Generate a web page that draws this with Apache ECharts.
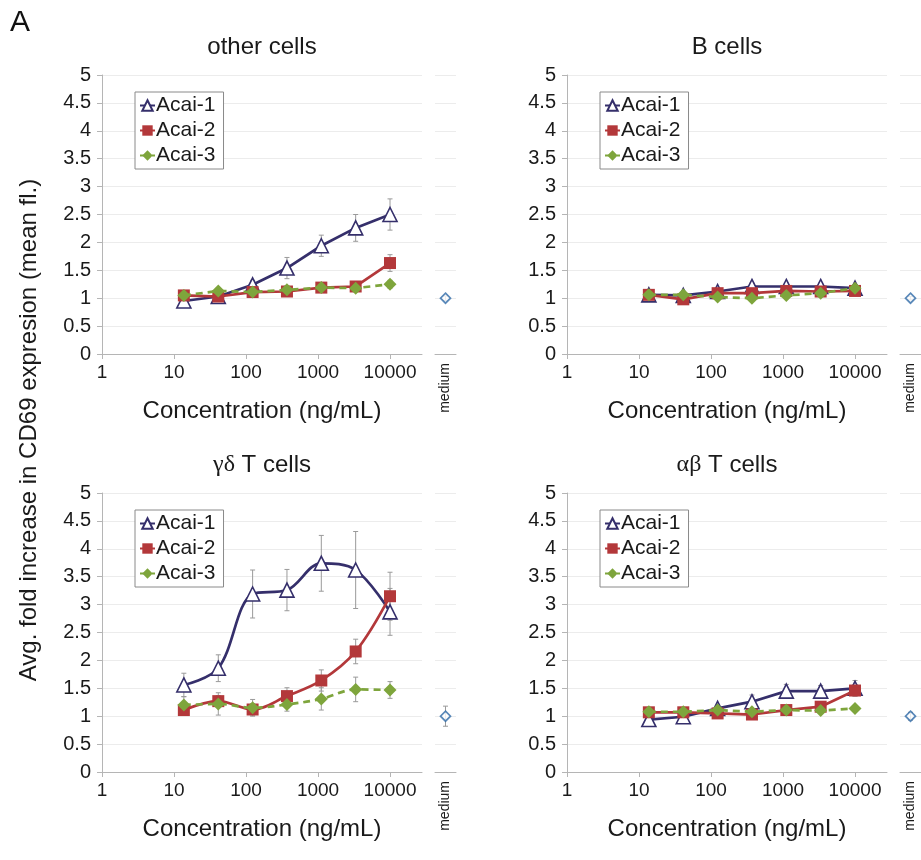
<!DOCTYPE html>
<html><head><meta charset="utf-8">
<script src="https://cdn.jsdelivr.net/npm/echarts@6/dist/echarts.min.js"></script>
<style>html,body{margin:0;padding:0;background:#fff}#c{width:921px;height:860px}</style>
</head><body><div id="c"></div>
<script>
// ---- data ----
const conc = [13.7, 41.2, 123.5, 370.4, 1111, 3333, 10000];
const seriesNames = ['Acai-1', 'Acai-2', 'Acai-3'];
const xTickValues = [1, 10, 100, 1000, 10000];
const panelTitles = ['other cells', 'B cells', '{g|γδ} T cells', '{g|αβ} T cells'];

const otherA1 = [0.95, 1.03, 1.24, 1.54, 1.94, 2.26, 2.50];
const otherA1Err = [0.05, 0.04, 0.08, 0.19, 0.19, 0.24, 0.28];
const otherA2 = [1.05, 1.03, 1.11, 1.12, 1.19, 1.21, 1.63];
const otherA2Err = [0.04, 0.04, 0.04, 0.05, 0.06, 0.05, 0.15];
const otherA3 = [1.05, 1.13, 1.11, 1.15, 1.19, 1.18, 1.25];
const otherA3Err = [0.04, 0.05, 0.05, 0.07, 0.06, 0.06, 0.07];
const otherMedium = 1.0, otherMediumErr = 0.04;

const bA1 = [1.06, 1.05, 1.12, 1.21, 1.21, 1.21, 1.18];
const bA1Err = [0.03, 0.03, 0.05, 0.06, 0.06, 0.06, 0.05];
const bA2 = [1.06, 0.98, 1.09, 1.09, 1.13, 1.12, 1.13];
const bA2Err = [0.03, 0.03, 0.04, 0.04, 0.04, 0.04, 0.04];
const bA3 = [1.06, 1.06, 1.02, 1.00, 1.05, 1.09, 1.18];
const bA3Err = [0.03, 0.03, 0.03, 0.03, 0.03, 0.03, 0.04];
const bMedium = 1.0, bMediumErr = 0.03;

const gdA1 = [1.56, 1.86, 3.19, 3.26, 3.74, 3.62, 2.87];
const gdA1Err = [0.21, 0.24, 0.43, 0.37, 0.50, 0.69, 0.42];
const gdA2 = [1.11, 1.27, 1.12, 1.36, 1.64, 2.16, 3.15];
const gdA2Err = [0.06, 0.10, 0.10, 0.15, 0.19, 0.22, 0.43];
const gdA3 = [1.20, 1.22, 1.15, 1.21, 1.31, 1.48, 1.47];
const gdA3Err = [0.15, 0.20, 0.15, 0.12, 0.20, 0.22, 0.15];
const gdMedium = 1.0, gdMediumErr = 0.18;

const abA1 = [0.94, 0.99, 1.14, 1.26, 1.45, 1.45, 1.50];
const abA1Err = [0.04, 0.05, 0.05, 0.12, 0.12, 0.10, 0.14];
const abA2 = [1.07, 1.07, 1.05, 1.03, 1.11, 1.17, 1.46];
const abA2Err = [0.04, 0.04, 0.04, 0.04, 0.05, 0.06, 0.10];
const abA3 = [1.08, 1.08, 1.11, 1.08, 1.11, 1.10, 1.14];
const abA3Err = [0.03, 0.03, 0.04, 0.03, 0.04, 0.04, 0.04];
const abMedium = 1.0, abMediumErr = 0.07;

const panels = [
  {vals: [otherA1, otherA2, otherA3], errs: [otherA1Err, otherA2Err, otherA3Err], med: otherMedium, medErr: otherMediumErr, smooth: false},
  {vals: [bA1, bA2, bA3], errs: [bA1Err, bA2Err, bA3Err], med: bMedium, medErr: bMediumErr, smooth: false},
  {vals: [gdA1, gdA2, gdA3], errs: [gdA1Err, gdA2Err, gdA3Err], med: gdMedium, medErr: gdMediumErr, smooth: true},
  {vals: [abA1, abA2, abA3], errs: [abA1Err, abA2Err, abA3Err], med: abMedium, medErr: abMediumErr, smooth: false}
];

// ---- layout / style ----
const FONT = '"Liberation Sans", Arial, sans-serif';
const colors = ['#352f6b', '#b3383a', '#7ea53c'];
const symbols = ['triangle', 'rect', 'diamond'];
const symSizes = [14, 12, 13];
const geo = [
  {left: 102, top: 75, med: 435},
  {left: 567, top: 75, med: 900},
  {left: 102, top: 493, med: 435},
  {left: 567, top: 493, med: 900}
];
const W = 320, H = 279;

const grid = [], xAxis = [], yAxis = [], series = [], legend = [], graphic = [];

function errRender(params, api) {
  const x = api.value(0), lo = api.value(1), hi = api.value(2);
  const p1 = api.coord([x, lo]), p2 = api.coord([x, hi]);
  const st = {stroke: '#9a9a9a', lineWidth: 1};
  return {type: 'group', children: [
    {type: 'line', shape: {x1: p1[0], y1: p1[1], x2: p2[0], y2: p2[1]}, style: st},
    {type: 'line', shape: {x1: p1[0] - 2.5, y1: p1[1], x2: p1[0] + 2.5, y2: p1[1]}, style: st},
    {type: 'line', shape: {x1: p2[0] - 2.5, y1: p2[1], x2: p2[0] + 2.5, y2: p2[1]}, style: st}
  ]};
}

panels.forEach((pn, i) => {
  const g = geo[i];
  const gi = i * 2, mi = i * 2 + 1;
  grid.push({left: g.left, top: g.top, width: W, height: H});
  grid.push({left: g.med, top: g.top, width: 21, height: H});
  xAxis.push({
    type: 'log', logBase: 10, gridIndex: gi, min: 1, max: 27800,
    axisLine: {show: true, lineStyle: {color: '#b5b5b5', width: 1}},
    axisTick: {show: true, length: 5, lineStyle: {color: '#b5b5b5'}, customValues: xTickValues},
    axisLabel: {color: '#1a1a1a', fontSize: 19, fontFamily: FONT, margin: 9, customValues: xTickValues,
      formatter: v => { const l = Math.log10(v); return Math.abs(l - Math.round(l)) < 1e-6 ? String(Math.round(v)) : ''; }},
    splitLine: {show: false}, minorTick: {show: false},
    name: 'Concentration (ng/mL)', nameLocation: 'middle', nameGap: 45,
    nameTextStyle: {color: '#1a1a1a', fontSize: 24, fontFamily: FONT}
  });
  xAxis.push({
    type: 'category', gridIndex: mi, data: ['medium'], boundaryGap: true,
    axisLine: {show: true, lineStyle: {color: '#b5b5b5'}},
    axisTick: {show: false},
    axisLabel: {rotate: 90, color: '#1a1a1a', fontSize: 14, fontFamily: FONT, margin: 9}
  });
  yAxis.push({
    type: 'value', gridIndex: gi, min: 0, max: 5, interval: 0.5,
    axisLine: {show: true, lineStyle: {color: '#b5b5b5'}},
    axisTick: {show: true, length: 5, lineStyle: {color: '#b5b5b5'}},
    axisLabel: {color: '#1a1a1a', fontSize: 20, fontFamily: FONT, margin: 11},
    splitLine: {show: true, lineStyle: {color: '#ececec'}}
  });
  yAxis.push({
    type: 'value', gridIndex: mi, min: 0, max: 5, interval: 0.5,
    axisLine: {show: false}, axisTick: {show: false}, axisLabel: {show: false},
    splitLine: {show: true, lineStyle: {color: '#ececec'}}
  });
  // error bars
  const errData = [];
  pn.vals.forEach((vs, k) => vs.forEach((v, j) => errData.push([conc[j], v - pn.errs[k][j], v + pn.errs[k][j]])));
  series.push({type: 'custom', xAxisIndex: gi, yAxisIndex: gi, renderItem: errRender, data: errData, z: 1, silent: true});
  series.push({type: 'custom', xAxisIndex: mi, yAxisIndex: mi, renderItem: errRender,
    data: [[0, pn.med - pn.medErr, pn.med + pn.medErr]], z: 1, silent: true});
  // lines
  pn.vals.forEach((vs, k) => {
    series.push({
      type: 'line', name: seriesNames[k], xAxisIndex: gi, yAxisIndex: gi,
      data: vs.map((v, j) => [conc[j], v]),
      smooth: pn.smooth ? 0.35 : false,
      symbol: symbols[k], symbolSize: symSizes[k],
      lineStyle: {color: colors[k], width: 2.7, type: k === 2 ? [7, 5] : 'solid'},
      itemStyle: k === 0 ? {color: '#ffffff', borderColor: colors[0], borderWidth: 1.6} : {color: colors[k], borderColor: colors[k], borderWidth: 0},
      z: 3 + k, animation: false
    });
  });
  series.push({
    type: 'scatter', name: 'medium', xAxisIndex: mi, yAxisIndex: mi,
    data: [[0, pn.med]], symbol: 'diamond', symbolSize: 10,
    itemStyle: {color: '#ffffff', borderColor: '#2f6aa8', borderWidth: 1.7}, z: 3
  });
  legend.push({
    data: seriesNames, orient: 'vertical', left: g.left + 33, top: g.top + 17,
    itemGap: 4, itemWidth: 15, itemHeight: 13, padding: [3, 8, 3, 4],
    borderColor: '#8a8a8a', borderWidth: 1, backgroundColor: '#fff', selectedMode: false,
    textStyle: {color: '#1a1a1a', fontSize: 21, fontFamily: FONT, padding: [0, 0, 0, -4]}
  });
  graphic.push({
    type: 'text', x: g.left + W / 2, y: g.top - 28,
    style: {text: panelTitles[i], fill: '#1a1a1a', font: '24px ' + FONT, align: 'center', verticalAlign: 'middle',
      rich: {g: {fontFamily: '"Liberation Serif", serif', fontSize: 24, fill: '#1a1a1a'}}}
  });
});

graphic.push({type: 'text', x: 10, y: 8, style: {text: 'A', fill: '#111', font: '30px ' + FONT}});
graphic.push({type: 'text', x: 29, y: 430, rotation: Math.PI / 2,
  style: {text: 'Avg. fold increase in CD69 expresion (mean fl.)', fill: '#1a1a1a', font: '24px ' + FONT, align: 'center', verticalAlign: 'middle'}});

const chart = echarts.init(document.getElementById('c'));
chart.setOption({animation: false, backgroundColor: '#fff', grid, xAxis, yAxis, series, legend, graphic});
</script></body></html>
